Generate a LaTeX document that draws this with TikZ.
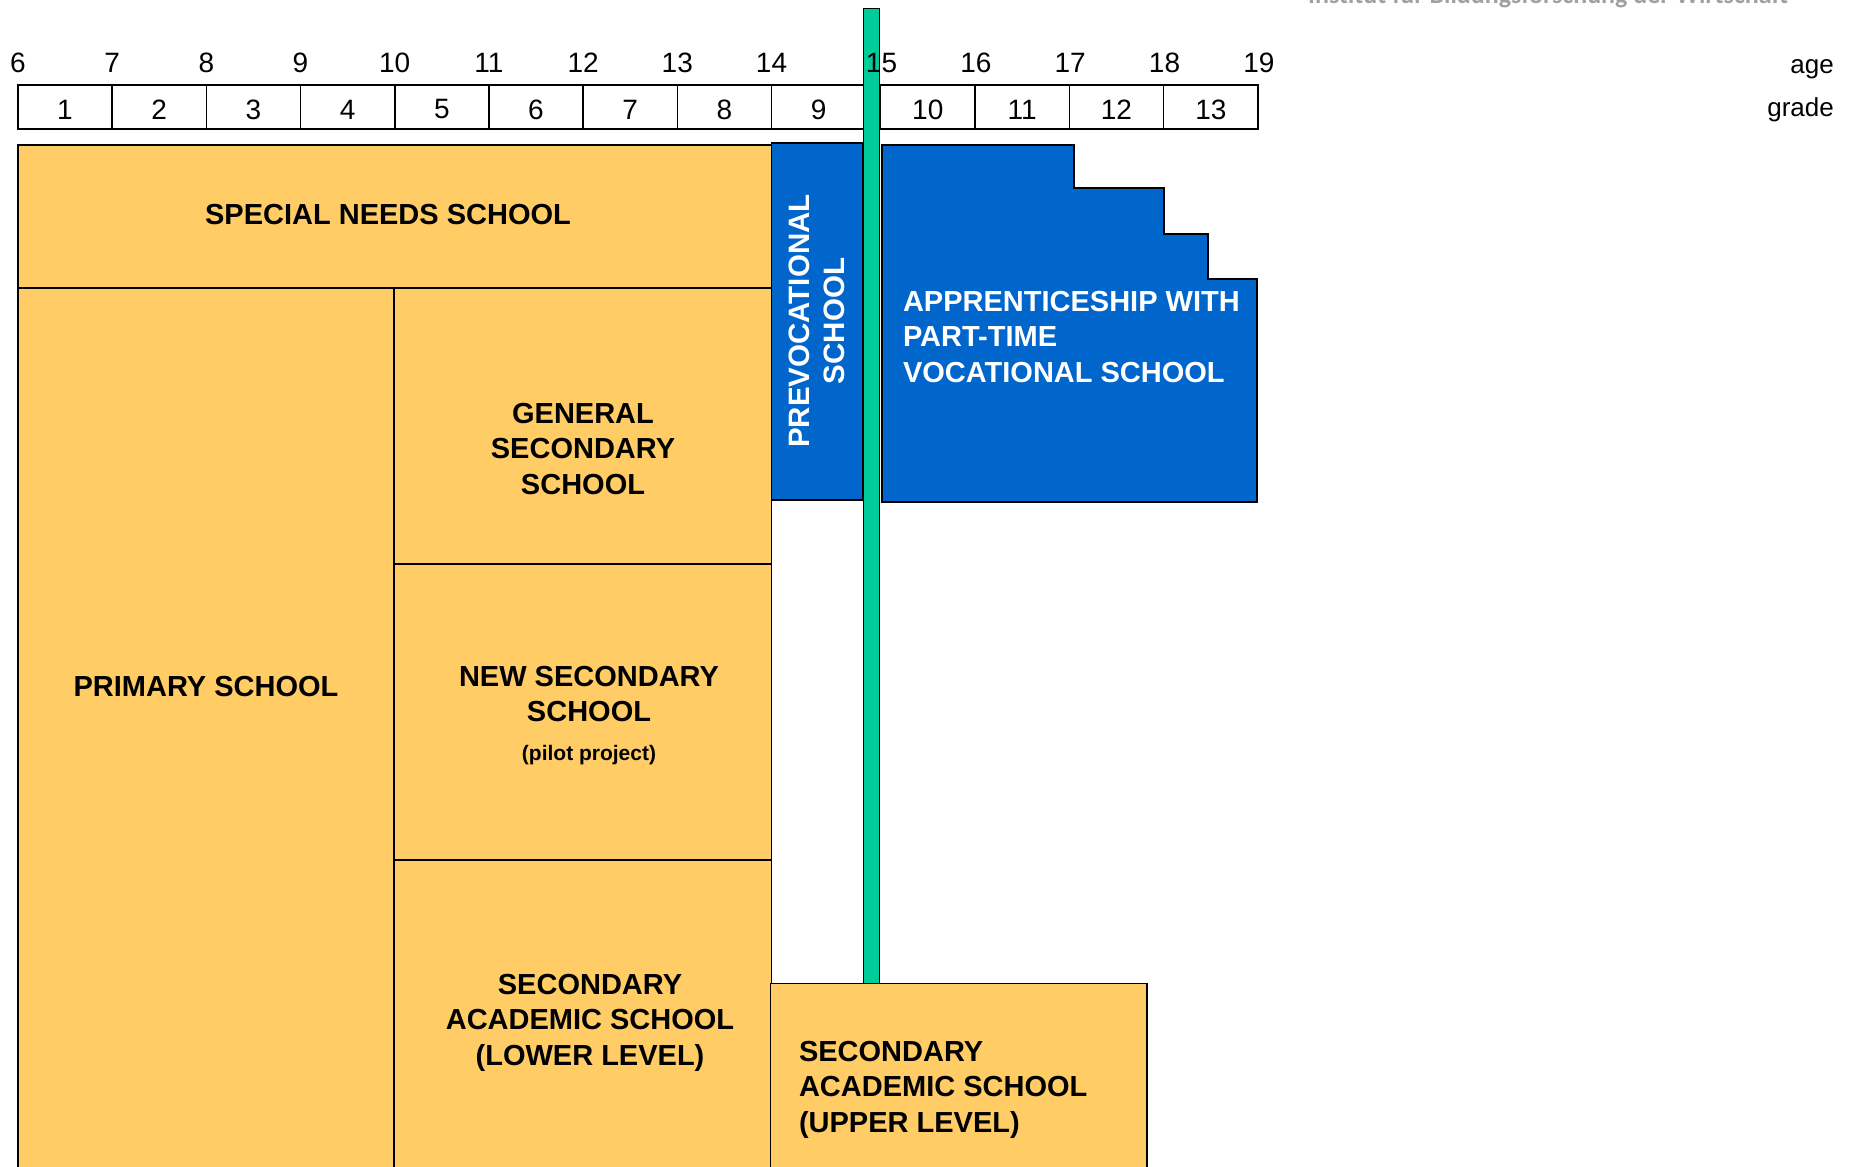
\documentclass[tikz,border=0pt]{standalone}
\usepackage{fontspec}
\setmainfont{Liberation Sans}
\newfontfamily\headfont{Carlito}

\definecolor{schoolorange}{HTML}{FFCC66}
\definecolor{schoolblue}{HTML}{0066CC}
\definecolor{bargreen}{HTML}{00CC99}
\definecolor{headgray}{HTML}{A0A0A0}

\begin{document}
\begin{tikzpicture}[x = 1pt, y = -1pt,
  cell/.style = {draw, line width = 1.6pt},
  orangebox/.style = {draw, line width = 1.6pt, fill = schoolorange},
  bluebox/.style = {draw, line width = 1.6pt, fill = schoolblue},
  numtext/.style = {font = \fontsize{28}{32}\selectfont, inner sep = 0},
  schooltext/.style = {font = \bfseries\fontsize{29}{35.4}\selectfont, align = center},
  whitetext/.style = {schooltext, text = white}]
  \useasboundingbox (0, 0) rectangle (1850, 1167);
  \clip (0, 0) rectangle (1850, 1167);

  \node[anchor = base west, inner sep = 0, text = headgray,
   font = \headfont\bfseries\fontsize{26}{30}\selectfont] (institute)
   at (1308, 3) {Institut für Bildungsforschung der Wirtschaft};

  % grades
  \foreach \g [count = \i from 0] in {1, ..., 9}
    \draw[cell] (17.9 + 94.2*\i, 85) rectangle ++(94.2, 44)
     node[numtext, midway, yshift = -2.5pt] (grade\g) {\g};
  \foreach \g [count = \i from 0] in {10, ..., 13}
    \draw[cell] (880.6 + 94.35*\i, 85) rectangle ++(94.35, 44)
     node[numtext, midway, yshift = -2.5pt] (grade\g) {\g};
  \node[anchor = base east, font = \fontsize{26}{30}\selectfont, inner sep = 0]
   (agelabel) at (1834, 73) {age};
  \node[anchor = base east, font = \fontsize{26}{30}\selectfont, inner sep = 0]
   (gradelabel) at (1834, 116) {grade};

  % schools
  \draw[orangebox] (17.9, 145) rectangle (771.6, 288);
  \node[schooltext] (special) at (388, 215) {SPECIAL NEEDS SCHOOL};
  \draw[orangebox] (17.9, 288) rectangle (394, 1180);
  \node[schooltext] (primary) at (206, 687) {PRIMARY SCHOOL};
  \draw[orangebox] (394, 288) rectangle (771.6, 564);
  \node[schooltext] (general) at (583, 449) {GENERAL\\SECONDARY\\SCHOOL};
  \draw[orangebox] (394, 564) rectangle (771.6, 860);
  \node[schooltext] (newsec) at (589, 694) {NEW SECONDARY\\SCHOOL};
  \node[schooltext, font = \bfseries\fontsize{21}{25}\selectfont]
   (pilot) at (589, 755) {(pilot project)};
  \draw[orangebox] (394, 860) rectangle (771.6, 1180);
  \node[schooltext] (lowerlevel) at (590, 1022.5)
   {SECONDARY\\ACADEMIC SCHOOL\\(LOWER LEVEL)};

  \draw[bluebox] (771.6, 142.7) rectangle (863, 500);
  \node[whitetext, rotate = 90, font = \bfseries\fontsize{29.5}{35}\selectfont]
   (prevoc) at (817, 321) {PREVOCATIONAL\\SCHOOL};
  \draw[bluebox] (881.7, 145) -- (1074, 145) -- (1074, 188) -- (1164, 188)
   -- (1164, 234) -- (1208, 234) -- (1208, 279) -- (1257, 279)
   -- (1257, 502) -- (881.7, 502) -- cycle;
  \node[whitetext, anchor = west, align = left] (apprentice) at (899.5, 337)
   {APPRENTICESHIP WITH\\PART-TIME\\VOCATIONAL SCHOOL};

  \draw[fill = bargreen, line width = 0.8pt] (863.5, 8.5) rectangle (879.5, 983.3);

  \draw[orangebox] (770.5, 983.3) rectangle (1147, 1180);
  \node[schooltext, anchor = west, align = left] (upperlevel) at (795.5, 1089.5)
   {SECONDARY\\ACADEMIC SCHOOL\\(UPPER LEVEL)};

  % ages
  \foreach \a [count = \i from 0] in {6, ..., 14}
    \node[numtext, anchor = base] (age\a) at (17.9 + 94.2*\i, 72) {\a};
  \foreach \a [count = \i from 0] in {15, ..., 19}
    \node[numtext, anchor = base] (age\a) at (881.5 + 94.35*\i, 72) {\a};
\end{tikzpicture}
\end{document}
